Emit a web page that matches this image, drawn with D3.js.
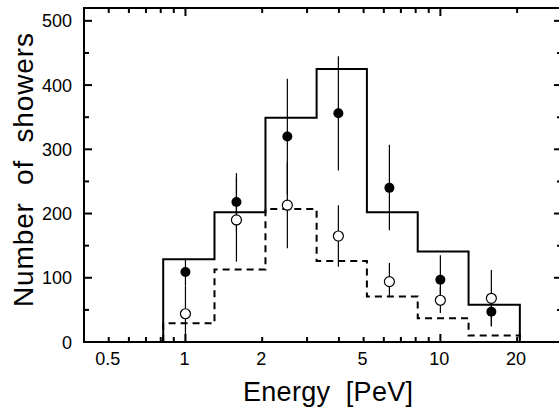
<!DOCTYPE html>
<html><head><meta charset="utf-8">
<script src="https://cdn.jsdelivr.net/npm/d3@7"></script>
<style>html,body{margin:0;padding:0;background:#fff;overflow:hidden}svg{display:block}text{font-family:"Liberation Sans",Arial,sans-serif;fill:#000}</style>
</head><body>
<script>
// Data
const binEdges = [0.818, 1.30, 2.06, 3.27, 5.15, 8.15, 12.9, 20.5];
const solidHist = [129, 202, 349, 425, 202, 141, 58];
const dashedHist = [29, 113, 207, 126, 71, 37, 10];
const energies = [1.0, 1.585, 2.51, 3.98, 6.31, 10.0, 15.85];
const filledVals = [109, 218, 320, 356, 240, 97, 47];
const filledLo = [88, 173, 230, 267, 174, 58, 24];
const filledHi = [130, 263, 410, 445, 307, 135, 70];
const openVals = [44, 190, 213, 165, 94, 65, 68];
const openLo = [0, 125, 146, 117, 70, 45, 25];
const openHi = [88, 255, 280, 213, 123, 85, 112];
const xTickLabels = [0.5, 1, 2, 5, 10, 20];
const yTickLabels = [0, 100, 200, 300, 400, 500];

const W = 559, H = 409;
const svg = d3.select("body").append("svg").attr("width", W).attr("height", H);
const L = 84, R = 562, T = 8, B = 342;
const x = d3.scaleLog().domain([0.4, 30]).range([L, R]);
const y = d3.scaleLinear().domain([0, 520]).range([B, T]);

// minor tick values
const xMinor = [];
[0.1, 1, 10].forEach(d => { for (let k = 1; k <= 9; k++) { const v = +(d * k).toFixed(4); if (v >= 0.4 && v <= 30) xMinor.push(v); } });
xMinor.push(30);
const isMajorX = v => v === 1 || v === 10;
const yMinor = d3.range(0, 520, 50);

const g = svg.append("g");
g.append("rect").attr("x", L).attr("y", T).attr("width", R - L).attr("height", B - T)
  .attr("fill", "none").attr("stroke", "#000").attr("stroke-width", 2);

xMinor.forEach(v => {
  const len = isMajorX(v) ? 8 : 5;
  g.append("line").attr("x1", x(v)).attr("x2", x(v)).attr("y1", B).attr("y2", B - len).attr("stroke", "#000").attr("stroke-width", 2);
  g.append("line").attr("x1", x(v)).attr("x2", x(v)).attr("y1", T).attr("y2", T + len).attr("stroke", "#000").attr("stroke-width", 2);
});
yMinor.forEach(v => {
  const len = v % 100 === 0 ? 8 : 5;
  g.append("line").attr("x1", L).attr("x2", L + len).attr("y1", y(v)).attr("y2", y(v)).attr("stroke", "#000").attr("stroke-width", 2);
  g.append("line").attr("x1", R).attr("x2", R - len).attr("y1", y(v)).attr("y2", y(v)).attr("stroke", "#000").attr("stroke-width", 2);
});

g.selectAll(".xl").data(xTickLabels).enter().append("text")
  .attr("x", d => x(d) - 1).attr("y", 365).attr("text-anchor", "middle")
  .attr("font-size", 18).text(d => d);
g.selectAll(".yl").data(yTickLabels).enter().append("text")
  .attr("x", 72).attr("y", d => y(d) + 6.5).attr("text-anchor", "end")
  .attr("font-size", 18).text(d => d);

svg.append("text").attr("x", 243).attr("y", 401)
  .attr("font-size", 27).attr("textLength", 170).attr("lengthAdjust", "spacing")
  .style("white-space", "pre").text("Energy  [PeV]");
svg.append("text").attr("transform", "translate(33,307) rotate(-90)")
  .attr("font-size", 28).attr("textLength", 274).attr("lengthAdjust", "spacing")
  .style("white-space", "pre").text("Number  of  showers");

function stepPath(vals) {
  const p = d3.path();
  p.moveTo(x(binEdges[0]), y(0));
  vals.forEach((v, i) => { p.lineTo(x(binEdges[i]), y(v)); p.lineTo(x(binEdges[i + 1]), y(v)); });
  p.lineTo(x(binEdges[vals.length]), y(0));
  return p.toString();
}
svg.append("path").attr("d", stepPath(dashedHist)).attr("fill", "none").attr("stroke", "#000")
  .attr("stroke-width", 2).attr("stroke-dasharray", "7,5");
svg.append("path").attr("d", stepPath(solidHist)).attr("fill", "none").attr("stroke", "#000")
  .attr("stroke-width", 2);

energies.forEach((e, i) => {
  svg.append("line").attr("x1", x(e)).attr("x2", x(e)).attr("y1", y(filledLo[i])).attr("y2", y(filledHi[i])).attr("stroke", "#000").attr("stroke-width", 1.2);
  svg.append("line").attr("x1", x(e)).attr("x2", x(e)).attr("y1", y(openLo[i])).attr("y2", y(openHi[i])).attr("stroke", "#000").attr("stroke-width", 1.2);
});
svg.selectAll(".op").data(energies).enter().append("circle")
  .attr("cx", d => x(d)).attr("cy", (d, i) => y(openVals[i])).attr("r", 5)
  .attr("fill", "#fff").attr("stroke", "#000").attr("stroke-width", 1.2);
svg.selectAll(".fp").data(energies).enter().append("circle")
  .attr("cx", d => x(d)).attr("cy", (d, i) => y(filledVals[i])).attr("r", 5)
  .attr("fill", "#000");
</script>
</body></html>
